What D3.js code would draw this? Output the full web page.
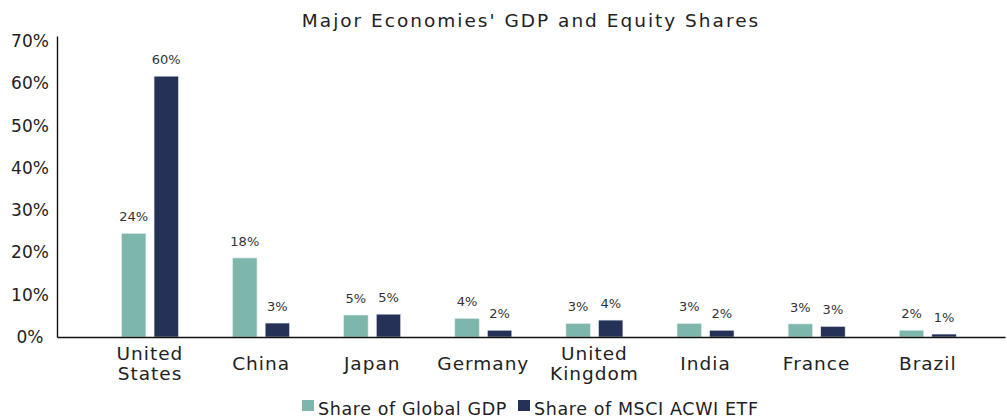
<!DOCTYPE html>
<html><head><meta charset="utf-8">
<script src="https://cdn.jsdelivr.net/npm/d3@7"></script>
<style>
html,body{margin:0;padding:0;background:#fff;}
svg text{font-family:"DejaVu Sans",sans-serif;fill:#222;}
</style></head>
<body><svg id="c" width="1007" height="418"></svg>
<script>
const title = "Major Economies' GDP and Equity Shares";
const categories = ["United States","China","Japan","Germany","United Kingdom","India","France","Brazil"];
const seriesNames = ["Share of Global GDP","Share of MSCI ACWI ETF"];
const gdp  = [24.5, 18.7, 5.2, 4.4, 3.2, 3.2, 3.1, 1.6];
const msci = [61.7, 3.3, 5.4, 1.6, 4.0, 1.6, 2.5, 0.7];
const gdpLabels  = ["24%","18%","5%","4%","3%","3%","3%","2%"];
const msciLabels = ["60%","3%","5%","2%","4%","2%","3%","1%"];
const yTicks = [0,10,20,30,40,50,60,70];
const colors = ["#7db7ab","#253157"];

const svg = d3.select("#c");
const plotLeft = 57, plotRight = 1005, plotBase = 337, plotTop = 36;

const x0 = d3.scaleBand().domain(categories).range([plotLeft, plotRight])
  .paddingInner(0).paddingOuter(0.266).align(0.633);
const x1 = d3.scaleBand().domain(seriesNames).range([-28.5, 28.5]).paddingInner(0.25);
const y = d3.scaleLinear().domain([0, 71.2]).range([plotBase, plotTop]);

const series = [
  {name: seriesNames[0], values: gdp, labels: gdpLabels, color: colors[0]},
  {name: seriesNames[1], values: msci, labels: msciLabels, color: colors[1]}
];

// bars
series.forEach(s => {
  const g = svg.append("g");
  g.selectAll("rect").data(categories).join("rect")
    .attr("x", (c) => x0(c) + x0.bandwidth()/2 + x1(s.name))
    .attr("width", x1.bandwidth())
    .attr("y", (c,i) => y(s.values[i]))
    .attr("height", (c,i) => y(0) - y(s.values[i]))
    .attr("fill", s.color)
    .attr("stroke", "#e6ecef").attr("stroke-width", 0.6);
  g.selectAll("text").data(categories).join("text")
    .attr("x", (c) => x0(c) + x0.bandwidth()/2 + x1(s.name) + x1.bandwidth()/2)
    .attr("y", (c,i) => y(s.values[i]) - 12)
    .attr("text-anchor", "middle")
    .attr("font-size", 13)
    .style("fill", "#333")
    .text((c,i) => s.labels[i]);
});

// y axis
const ya = svg.append("g").attr("transform", `translate(${plotLeft},0)`)
  .call(d3.axisLeft(y).tickValues(yTicks).tickSize(0).tickFormat(d => d + "%"));
ya.select(".domain").attr("stroke", "#111").attr("stroke-width", 1.4);
ya.selectAll(".tick text").attr("x", -27).attr("text-anchor", "middle")
  .attr("font-size", 17).attr("font-family", null).style("fill","#222");

// x axis
const xa = svg.append("g").attr("transform", `translate(0,${plotBase})`)
  .call(d3.axisBottom(x0).tickSize(0).tickFormat(""));
xa.select(".domain").attr("stroke", "#111").attr("stroke-width", 1.4);
xa.selectAll(".tick").each(function(c) {
  const lines = c.split(" ");
  const t = d3.select(this).append("text")
    .attr("text-anchor", "middle").attr("font-size", 18.5)
    .style("letter-spacing", "1px").style("fill","#222");
  const y0 = lines.length === 1 ? 33 : 23;
  lines.forEach((ln, k) => t.append("tspan").attr("x", 0).attr("y", y0 + k*20).text(ln));
});

// title
svg.append("text").attr("x", (plotLeft + plotRight)/2).attr("y", 27)
  .attr("text-anchor", "middle").attr("font-size", 18.5)
  .style("letter-spacing", "2px").style("fill","#222").text(title);

// legend
const lg = svg.append("g");
const legendX = [302, 518];
series.forEach((s, i) => {
  lg.append("rect").attr("x", legendX[i]).attr("y", 400).attr("width", 12).attr("height", 11).attr("fill", s.color);
  lg.append("text").attr("x", legendX[i] + 16).attr("y", 414.5).attr("font-size", 17.5)
    .style("letter-spacing", "0.6px").style("fill","#222").text(s.name);
});
</script></body></html>
